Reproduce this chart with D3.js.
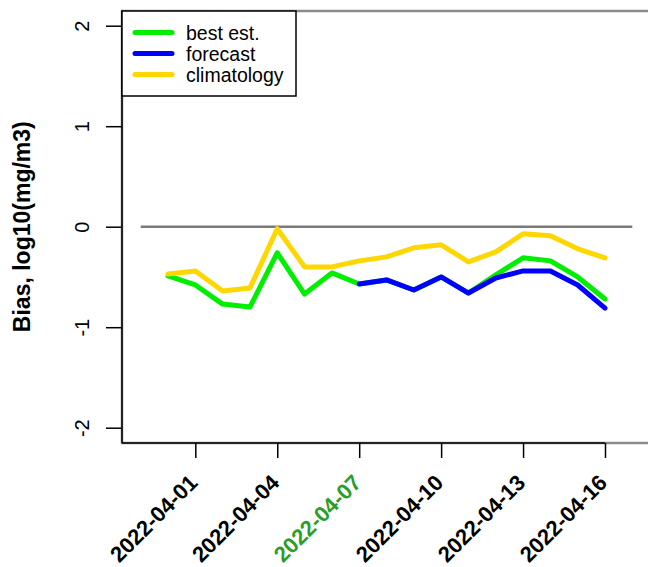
<!DOCTYPE html>
<html>
<head>
<meta charset="utf-8">
<script src="https://cdn.jsdelivr.net/npm/d3@7"></script>
<style>
    body { margin: 0; background: #fff; }
    svg text { font-family: "Liberation Sans", Arial, sans-serif; }
</style>
</head>
<body>
<div id="vis-container"></div>
<script>
// Days shown on the chart
const dates = ["2022-03-31", "2022-04-01", "2022-04-02", "2022-04-03", "2022-04-04",
    "2022-04-05", "2022-04-06", "2022-04-07", "2022-04-08", "2022-04-09", "2022-04-10",
    "2022-04-11", "2022-04-12", "2022-04-13", "2022-04-14", "2022-04-15", "2022-04-16"];

// Bias series (log10 mg/m3), null where no value
const bestEst = [-0.49, -0.58, -0.77, -0.80, -0.26, -0.67, -0.46, -0.57, -0.53, -0.63,
    -0.50, -0.66, -0.48, -0.31, -0.34, -0.50, -0.72];
const forecast = [null, null, null, null, null, null, null, -0.57, -0.53, -0.63,
    -0.50, -0.66, -0.51, -0.44, -0.44, -0.58, -0.81];
const climatology = [-0.47, -0.44, -0.64, -0.61, -0.02, -0.40, -0.40, -0.34, -0.30, -0.21,
    -0.18, -0.35, -0.25, -0.07, -0.09, -0.22, -0.31];

// Axis ticks
const xTickLabels = ["2022-04-01", "2022-04-04", "2022-04-07", "2022-04-10", "2022-04-13", "2022-04-16"];
const yTicks = [-2, -1, 0, 1, 2];
const zeroLineRange = ["2022-03-30", "2022-04-17"];

const seriesNames = ["best est.", "forecast", "climatology"];
const seriesColors = ["#00ee00", "#0000ff", "#ffd700"];

function main()
{
    const width = 648, height = 567;
    const box = { left: 122, top: 11, bottom: 443 };

    const svg = d3.select("#vis-container")
        .append("svg")
        .attr("width", width)
        .attr("height", height);

    const parse = d3.utcParse("%Y-%m-%d");

    const xScale = d3.scaleUtc()
        .domain([parse(dates[0]), parse(dates[dates.length - 1])])
        .range([168, 605]);

    const yScale = d3.scaleLinear()
        .domain([-2, 2])
        .range([427.7, 25.7]);

    // Gray frame (top and right run off the picture)
    svg.append("rect")
        .attr("x", box.left)
        .attr("y", box.top)
        .attr("width", 600)
        .attr("height", box.bottom - box.top)
        .attr("fill", "none")
        .attr("stroke", "#8a8a8a")
        .attr("stroke-width", 2.5);

    // Zero reference line
    svg.append("line")
        .attr("x1", xScale(parse(zeroLineRange[0])))
        .attr("x2", xScale(parse(zeroLineRange[1])))
        .attr("y1", yScale(0))
        .attr("y2", yScale(0))
        .attr("stroke", "#7a7a7a")
        .attr("stroke-width", 2.5);

    // Series lines
    const line = d3.line()
        .defined(d => d.v !== null)
        .x(d => xScale(d.date))
        .y(d => yScale(d.v));

    [bestEst, forecast, climatology].forEach((values, k) => {
        const pts = values.map((v, i) => ({ date: parse(dates[i]), v: v }));
        svg.append("path")
            .datum(pts)
            .attr("d", line)
            .attr("fill", "none")
            .attr("stroke", seriesColors[k])
            .attr("stroke-width", 5)
            .attr("stroke-linejoin", "round")
            .attr("stroke-linecap", "round");
    });

    // Black axis lines
    svg.append("line")
        .attr("x1", box.left).attr("x2", box.left)
        .attr("y1", box.top).attr("y2", box.bottom)
        .attr("stroke", "#000").attr("stroke-width", 1.5);
    svg.append("line")
        .attr("x1", box.left).attr("x2", xScale(parse(xTickLabels[xTickLabels.length - 1])))
        .attr("y1", box.bottom).attr("y2", box.bottom)
        .attr("stroke", "#000").attr("stroke-width", 1.5);

    // X axis
    const xAxis = d3.axisBottom(xScale)
        .tickValues(xTickLabels.map(parse))
        .tickSize(15)
        .tickSizeOuter(0)
        .tickFormat(d3.utcFormat("%Y-%m-%d"));

    const gx = svg.append("g")
        .attr("transform", `translate(0, ${box.bottom})`)
        .call(xAxis);
    gx.select(".domain").remove();
    gx.selectAll(".tick line").attr("stroke", "#000").attr("stroke-width", 1.5);
    gx.selectAll(".tick text")
        .attr("y", null)
        .attr("dy", null)
        .attr("text-anchor", "end")
        .attr("transform", "translate(3, 41) rotate(-45)")
        .style("font-size", "22px")
        .style("font-weight", "bold")
        .attr("fill", d => d3.utcFormat("%Y-%m-%d")(d) === "2022-04-07" ? "#2a9d2a" : "#000");

    // Y axis
    const yAxis = d3.axisLeft(yScale)
        .tickValues(yTicks)
        .tickSize(16)
        .tickSizeOuter(0)
        .tickFormat(d => String(d));

    const gy = svg.append("g")
        .attr("transform", `translate(${box.left}, 0)`)
        .call(yAxis);
    gy.select(".domain").remove();
    gy.selectAll(".tick line").attr("stroke", "#000").attr("stroke-width", 1.5);
    gy.selectAll(".tick text")
        .attr("x", null)
        .attr("dy", null)
        .attr("text-anchor", "middle")
        .attr("transform", "translate(-33, 0) rotate(-90)")
        .attr("fill", "#000")
        .style("font-size", "20px");

    // Y axis title
    svg.append("text")
        .attr("transform", `translate(30, ${yScale(0)}) rotate(-90)`)
        .attr("text-anchor", "middle")
        .style("font-size", "23px")
        .style("font-weight", "bold")
        .text("Bias, log10(mg/m3)");

    // Legend
    const legend = svg.append("g");
    legend.append("rect")
        .attr("x", box.left)
        .attr("y", box.top)
        .attr("width", 174)
        .attr("height", 85)
        .attr("fill", "#fff")
        .attr("stroke", "#000")
        .attr("stroke-width", 1.5);

    seriesNames.forEach((name, i) => {
        const ly = 32.5 + i * 21;
        legend.append("line")
            .attr("x1", 135).attr("x2", 172)
            .attr("y1", ly).attr("y2", ly)
            .attr("stroke", seriesColors[i])
            .attr("stroke-width", 5)
            .attr("stroke-linecap", "round");
        legend.append("text")
            .attr("x", 186)
            .attr("y", ly)
            .attr("dy", "0.36em")
            .style("font-size", "19.5px")
            .text(name);
    });
}

document.addEventListener("DOMContentLoaded", main);
</script>
</body>
</html>
